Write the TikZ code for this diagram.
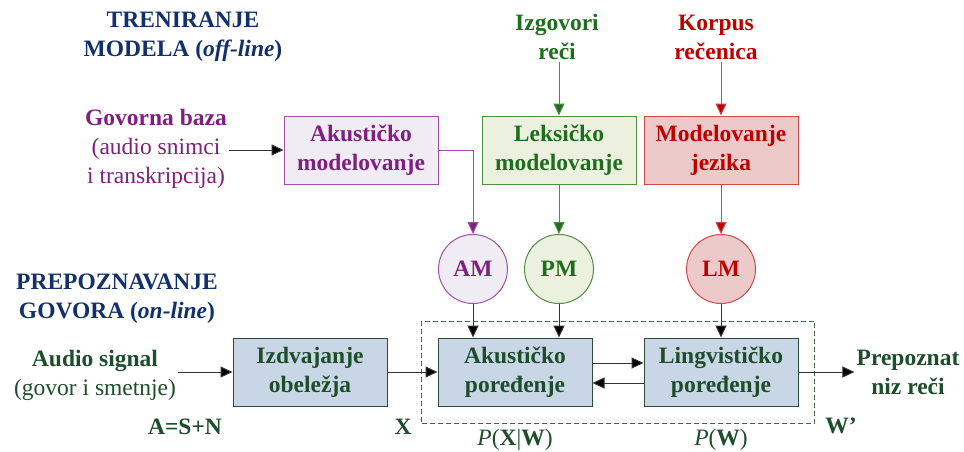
\documentclass[tikz,border=0pt]{standalone}
\usepackage{fontspec}
\setmainfont{Liberation Serif}
\usetikzlibrary{arrows.meta,fit}
\definecolor{navy}{HTML}{12306A}
\definecolor{pur}{HTML}{7F1F7F}
\definecolor{purline}{HTML}{A050A8}
\definecolor{purfill}{HTML}{F0ECF4}
\definecolor{grn}{HTML}{1E6E1E}
\definecolor{grnline}{HTML}{4E8E40}
\definecolor{grnfill}{HTML}{EBF1DE}
\definecolor{rd}{HTML}{C00000}
\definecolor{rdline}{HTML}{D04848}
\definecolor{rdfill}{HTML}{EDCACA}
\definecolor{dg}{HTML}{1E4D2B}
\definecolor{bfill}{HTML}{C9D6E5}
\definecolor{bline}{HTML}{2E4A3A}
\definecolor{dashc}{HTML}{3D6B52}
\definecolor{arrc}{HTML}{333333}
\begin{document}
\begin{tikzpicture}[x=1pt,y=-1pt,
  txt/.style={font=\fontsize{23.5}{29}\selectfont, align=center, inner sep=2pt},
  btxt/.style={font=\fontsize{23.5}{29}\selectfont\bfseries, align=center, inner sep=2pt},
  box/.style={btxt, draw, line width=1pt, minimum width=154pt, minimum height=68pt, inner sep=0pt},
  circ/.style={circle, draw, line width=1pt, minimum size=69pt, inner sep=0pt, font=\fontsize{23.5}{29}\selectfont\bfseries},
  arr/.style={line width=1pt},
  tipk/.style={-{Triangle[length=12pt,width=11pt,fill=#1]}},
  dashbox/.style={draw=dashc, dashed, line width=1pt, dash pattern=on 5pt off 3pt}
]
\useasboundingbox (0,0) rectangle (964,452);
% titles
\node[btxt, text=navy] (t1) at (183,37) {TRENIRANJE\\MODELA (\textit{off-line})};
\node[btxt, text=navy] (t2) at (117,299) {PREPOZNAVANJE\\GOVORA (\textit{on-line})};
% top inputs
\node[btxt, text=grn] (izg) at (557,37) {Izgovori\\reči};
\node[btxt, text=rd] (kor) at (716,37) {Korpus\\rečenica};
\node[txt, text=pur] (gov) at (156,149) {\textbf{Govorna baza}\\(audio snimci\\i transkripcija)};
% top boxes
\node[box, draw=purline, fill=purfill, text=pur] (akmod) at (361,150) {Akustičko\\modelovanje};
\node[box, draw=grnline, fill=grnfill, text=grn] (leks) at (559,150) {Leksičko\\modelovanje};
\node[box, draw=rdline, fill=rdfill, text=rd] (modj) at (721,150) {Modelovanje\\jezika};
% circles
\node[circ, draw=purline, fill=purfill, text=pur] (AM) at (473,269) {AM};
\node[circ, draw=grnline, fill=grnfill, text=grn] (PM) at (559,269) {PM};
\node[circ, draw=rdline, fill=rdfill, text=rd] (LM) at (721,269) {LM};
% lower boxes
\node[box, draw=bline, fill=bfill, text=dg] (izd) at (310,372) {Izdvajanje\\obeležja};
\node[box, draw=bline, fill=bfill, text=dg] (akp) at (515,372) {Akustičko\\poređenje};
\node[box, draw=bline, fill=bfill, text=dg] (ling) at (721,372) {Lingvističko\\poređenje};
\node[dashbox, fit=(akp)(ling), inner xsep=16pt, inner ysep=16.5pt] (dbox) {};
% lower texts
\node[txt, text=dg] (aud) at (95,375) {\textbf{Audio signal}\\(govor i smetnje)};
\node[btxt, text=dg] (out) at (908,372) {Prepoznat\\niz reči};
\node[btxt, text=dg] (asn) at (185,427) {A=S+N};
\node[btxt, text=dg] (xl) at (403,427) {X};
\node[btxt, text=dg] (wl) at (841,426) {W’};
\node[txt, text=dg] (pxw) at (515,440) {\textit{P}(\textbf{X}|\textbf{W})};
\node[txt, text=dg] (pw) at (721,440) {\textit{P}(\textbf{W})};
% connectors top
\draw[arr, draw=grnline, tipk=grn] (izg.south -| leks.north) -- (leks.north);
\draw[arr, draw=rdline, tipk=rd] (kor.south -| modj.north) -- (modj.north);
\draw[arr, draw=arrc, tipk=black] (gov.east |- akmod.west) -- (akmod.west);
\draw[arr, draw=purline, tipk=pur] (akmod.east) -| (AM.north);
\draw[arr, draw=grnline, tipk=grn] (leks.south) -- (PM.north);
\draw[arr, draw=rdline, tipk=rd] (modj.south) -- (LM.north);
% connectors bottom
\begin{scope}[arr, draw=arrc, tipk=black]
\draw (AM.south) -- (AM.south |- akp.north);
\draw (PM.south) -- (PM.south |- akp.north);
\draw (LM.south) -- (ling.north);
\draw (aud.east |- izd.west) -- (izd.west);
\draw (izd.east) -- (akp.west);
\draw ([yshift=9pt]akp.east) -- ([yshift=9pt]ling.west);
\draw ([yshift=-11pt]ling.west) -- ([yshift=-11pt]akp.east);
\draw (ling.east) -- (out.west |- ling.east);
\end{scope}
\end{tikzpicture}
\end{document}
